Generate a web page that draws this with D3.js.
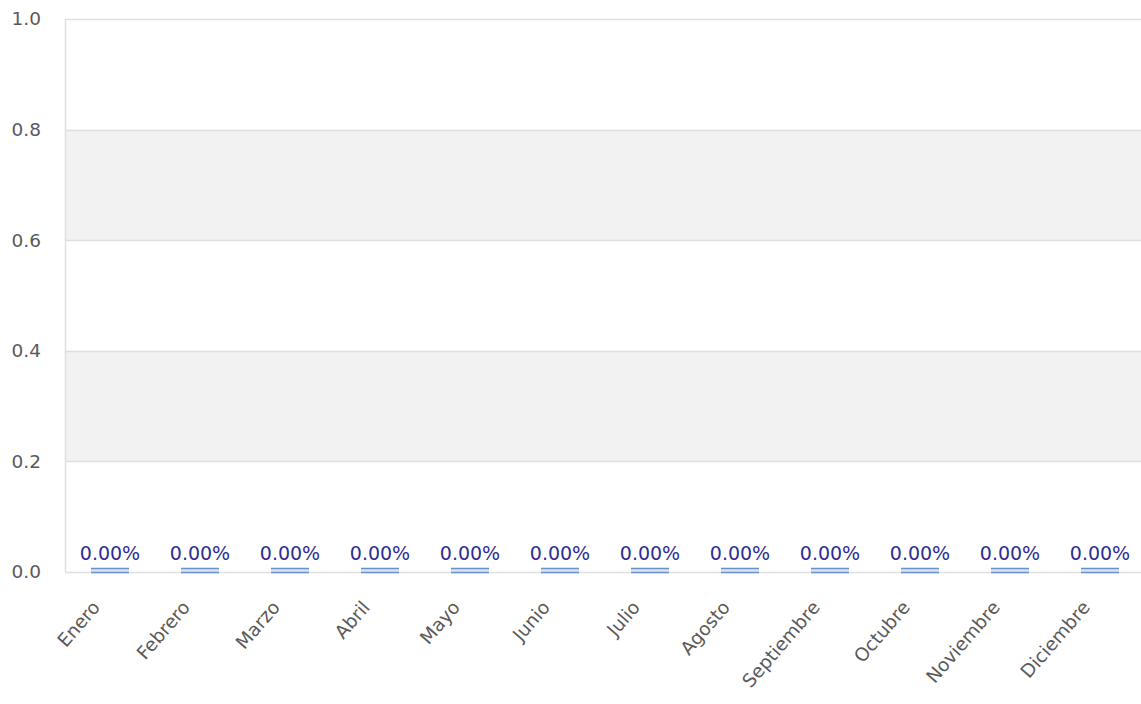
<!DOCTYPE html>
<html><head><meta charset="utf-8">
<script src="https://cdn.jsdelivr.net/npm/d3@7"></script>
<style>body{margin:0;background:#fff;} svg{display:block;}</style>
</head><body>
<svg id="chart" width="1141" height="704"></svg>
<script>
const months = ["Enero","Febrero","Marzo","Abril","Mayo","Junio","Julio","Agosto","Septiembre","Octubre","Noviembre","Diciembre"];
const values = [0,0,0,0,0,0,0,0,0,0,0,0];
const yTicks = [0,0.2,0.4,0.6,0.8,1.0];

const svg = d3.select("#chart");
const m = {left:65, top:19, right:1145, bottom:572};
const x = d3.scaleBand().domain(months).range([m.left, m.right]).paddingInner(0).paddingOuter(0);
const y = d3.scaleLinear().domain([0,1]).range([m.bottom, m.top]);
const font = "DejaVu Sans, Verdana, sans-serif";

// bands
const bands = [[0.2,0.4],[0.6,0.8]];
svg.append("g").selectAll("rect").data(bands).join("rect")
  .attr("x", m.left).attr("width", m.right - m.left)
  .attr("y", d => y(d[1])).attr("height", d => y(d[0]) - y(d[1]))
  .attr("fill", "#f2f2f2");

// gridlines
svg.append("g").selectAll("line").data(yTicks).join("line")
  .attr("x1", m.left).attr("x2", m.right)
  .attr("y1", d => Math.round(y(d))+0.5).attr("y2", d => Math.round(y(d))+0.5)
  .attr("stroke", "#e0e0e0").attr("stroke-width", 1.5);
svg.append("line").attr("x1", m.left+0.5).attr("x2", m.left+0.5).attr("y1", m.top).attr("y2", m.bottom)
  .attr("stroke", "#e0e0e0").attr("stroke-width", 1.5);

// y axis
const yAxis = d3.axisLeft(y).tickValues(yTicks).tickFormat(d3.format(".1f")).tickSize(0).tickPadding(24);
const gy = svg.append("g").attr("transform", `translate(${m.left},0)`).call(yAxis);
gy.select(".domain").remove();
gy.selectAll("text").attr("font-family", font).attr("font-size", 18.5).attr("fill", "#5a5a5a");

// x axis
const xAxis = d3.axisBottom(x).tickSize(0).tickPadding(0);
const gx = svg.append("g").attr("transform", `translate(0,${m.bottom})`).call(xAxis);
gx.select(".domain").remove();
gx.selectAll("text")
  .attr("font-family", font).attr("font-size", 18.5).attr("fill", "#5a5a5a")
  .attr("text-anchor", "end").attr("dy", null).attr("y", 0)
  .attr("transform", "translate(-9,36) rotate(-49)");

// bars (zero-height bars drawn as a thin outlined strip)
const bw = 38;
const bars = svg.append("g").selectAll("g").data(values).join("g")
  .attr("transform", (d,i) => `translate(${x(months[i]) + x.bandwidth()/2 - bw/2},${y(d)})`);
bars.append("rect").attr("x", 0).attr("width", bw).attr("y", -4).attr("height", 5).attr("fill", "#dbe4f2");
bars.append("line").attr("x1", 0).attr("x2", bw).attr("y1", -3.5).attr("y2", -3.5).attr("stroke", "#6a92c9").attr("stroke-width", 1.6);
bars.append("line").attr("x1", 0).attr("x2", bw).attr("y1", 0.5).attr("y2", 0.5).attr("stroke", "#6a92c9").attr("stroke-width", 1.6);

// labels
svg.append("g").selectAll("text").data(values).join("text")
  .attr("x", (d,i) => x(months[i]) + x.bandwidth()/2)
  .attr("y", d => y(d) - 12)
  .attr("text-anchor", "middle")
  .attr("font-family", font).attr("font-size", 19).attr("fill", "#2e2e96")
  .text(d => d3.format(".2%")(d));
</script>
</body></html>
